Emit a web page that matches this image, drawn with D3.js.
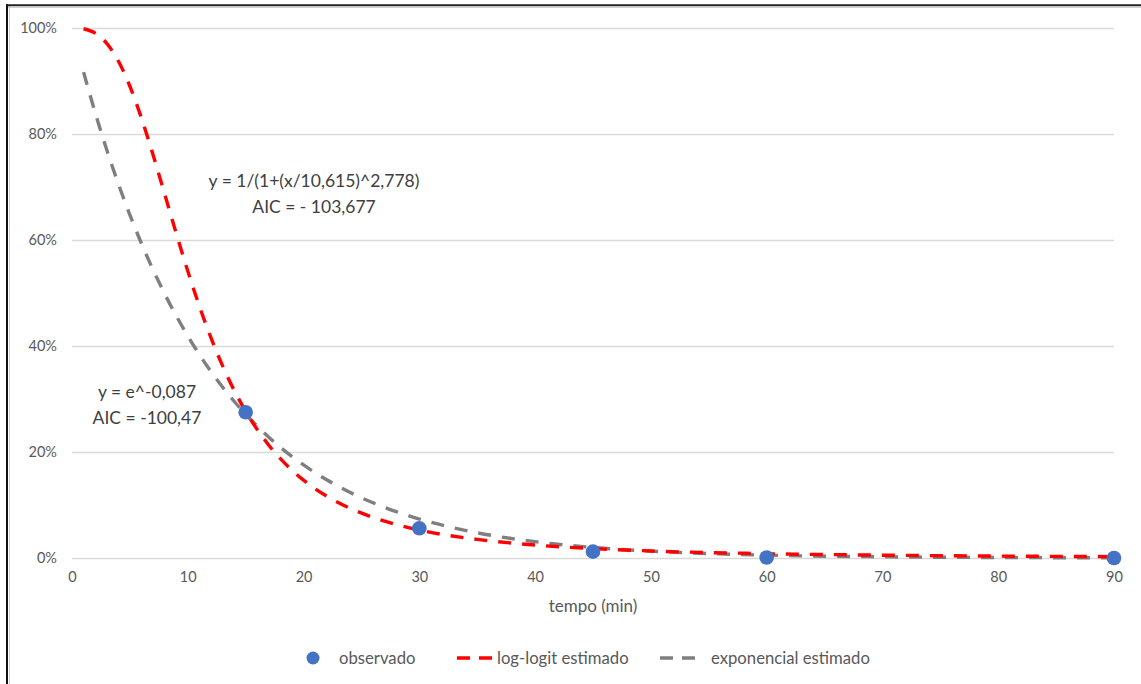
<!DOCTYPE html>
<html>
<head>
<meta charset="utf-8">
<script src="https://cdn.jsdelivr.net/npm/d3@7/dist/d3.min.js"></script>
<style>
  body { margin: 0; background: #fff; }
  svg { display: block; font-family: Lato, "Open Sans", sans-serif; }
</style>
</head>
<body>
<svg id="chart" width="1141" height="684"></svg>
<script>
// Observed fraction remaining
const tempoObservado = [15, 30, 45, 60, 90];
const observado = [0.275, 0.056, 0.012, 0.001, 0.0];

// Fitted curves, sampled along time (min)
const tempoModelo = [1, 2, 3, 4, 5, 6, 7, 8, 9, 10, 11, 12, 13, 14, 15, 16, 17, 18,
  20, 22, 24, 26, 28, 30, 35, 40, 45, 50, 60, 70, 80, 90];
const logLogitEstimado = [0.9986, 0.9904, 0.9710, 0.9377, 0.8901, 0.8299, 0.7607, 0.6870,
  0.6127, 0.5414, 0.4753, 0.4156, 0.3629, 0.3167, 0.2768, 0.2424, 0.2128, 0.1874,
  0.1468, 0.1167, 0.0940, 0.0767, 0.0633, 0.0528, 0.0351, 0.0245, 0.0178, 0.0133,
  0.0081, 0.0053, 0.0036, 0.0026];
const exponencialEstimado = [0.9167, 0.8403, 0.7703, 0.7061, 0.6473, 0.5933, 0.5439, 0.4986,
  0.4570, 0.4190, 0.3840, 0.3520, 0.3227, 0.2958, 0.2712, 0.2486, 0.2279, 0.2089,
  0.1755, 0.1475, 0.1239, 0.1042, 0.0875, 0.0735, 0.0476, 0.0308, 0.0199, 0.0129,
  0.0054, 0.0023, 0.0009, 0.0004];

const xTicks = [0, 10, 20, 30, 40, 50, 60, 70, 80, 90];
const yTicks = [0, 0.2, 0.4, 0.6, 0.8, 1.0];
const xTitle = "tempo (min)";
const legendLabels = ["observado", "log-logit estimado", "exponencial estimado"];
const eqLogLogit = ["y = 1/(1+(x/10,615)^2,778)", "AIC = - 103,677"];
const eqExponencial = ["y = e^-0,087", "AIC = -100,47"];

const colors = { obs: "#4472C4", red: "#FF0000", gray: "#7F7F7F", grid: "#D9D9D9", text: "#595959" };

const svg = d3.select("#chart");
const plot = { left: 72, right: 1114, top: 28, bottom: 558 };

const x = d3.scaleLinear().domain([0, 90]).range([plot.left, plot.right]);
const y = d3.scaleLinear().domain([0, 1]).range([plot.bottom, plot.top]);

// Frame edges (left and top)
svg.append("line").attr("x1", 9.5).attr("x2", 9.5).attr("y1", 6).attr("y2", 684)
  .attr("stroke", "#d0d0d0").attr("stroke-width", 1);
svg.append("line").attr("x1", 8).attr("x2", 1141).attr("y1", 7.5).attr("y2", 7.5)
  .attr("stroke", "#d0d0d0").attr("stroke-width", 1);
svg.append("line").attr("x1", 7).attr("x2", 7).attr("y1", 4).attr("y2", 684)
  .attr("stroke", "#111").attr("stroke-width", 2);
svg.append("line").attr("x1", 6).attr("x2", 1141).attr("y1", 5.3).attr("y2", 5.3)
  .attr("stroke", "#222").attr("stroke-width", 2);

// Horizontal gridlines + y labels
const yAxis = d3.axisLeft(y).tickValues(yTicks).tickFormat(d3.format(".0%"))
  .tickSize(-(plot.right - plot.left)).tickPadding(15);
const gy = svg.append("g").attr("transform", `translate(${plot.left},0)`).call(yAxis);
gy.select(".domain").remove();
gy.selectAll(".tick line").attr("stroke", colors.grid).attr("stroke-width", 1.3);
gy.selectAll(".tick text").attr("fill", colors.text).attr("font-size", 14.5)
  .attr("font-family", "Lato, sans-serif");

// x labels
const xAxis = d3.axisBottom(x).tickValues(xTicks).tickFormat(d3.format("d"))
  .tickSize(0).tickPadding(14);
const gx = svg.append("g").attr("transform", `translate(0,${plot.bottom})`).call(xAxis);
gx.select(".domain").remove();
gx.selectAll(".tick text").attr("fill", colors.text).attr("font-size", 14.5)
  .attr("font-family", "Lato, sans-serif");

svg.append("text").attr("x", 593).attr("y", 612)
  .attr("text-anchor", "middle").attr("fill", colors.text).attr("font-size", 17)
  .text(xTitle);

// Curves
const line = d3.line().x(d => x(d[0])).y(d => y(d[1])).curve(d3.curveMonotoneX);
const dash = "13,11";

svg.append("path")
  .datum(tempoModelo.map((t, i) => [t, exponencialEstimado[i]]))
  .attr("d", line).attr("fill", "none").attr("stroke", colors.gray)
  .attr("stroke-width", 3.4).attr("stroke-dasharray", dash);

svg.append("path")
  .datum(tempoModelo.map((t, i) => [t, logLogitEstimado[i]]))
  .attr("d", line).attr("fill", "none").attr("stroke", colors.red)
  .attr("stroke-width", 3.4).attr("stroke-dasharray", dash);

// Observed points
svg.append("g").selectAll("circle")
  .data(tempoObservado.map((t, i) => [t, observado[i]]))
  .join("circle")
  .attr("cx", d => x(d[0])).attr("cy", d => y(d[1])).attr("r", 7.3)
  .attr("fill", colors.obs);

// Equation annotations
function annotate(lines, cx, cy) {
  svg.append("g").selectAll("text").data(lines).join("text")
    .attr("x", cx).attr("y", (d, i) => cy + i * 26)
    .attr("text-anchor", "middle").attr("fill", "#404040").attr("font-size", 17.5)
    .text(d => d);
}
annotate(eqLogLogit, 314, 187);
annotate(eqExponencial, 147, 398);

// Legend
const legend = svg.append("g").attr("font-size", 16.7).attr("fill", colors.text);
legend.append("circle").attr("cx", 313).attr("cy", 658).attr("r", 6.5).attr("fill", colors.obs);
legend.append("text").attr("x", 339).attr("y", 664).text(legendLabels[0]);
legend.append("line").attr("x1", 457).attr("x2", 492).attr("y1", 658).attr("y2", 658)
  .attr("stroke", colors.red).attr("stroke-width", 3.4).attr("stroke-dasharray", "13,9");
legend.append("text").attr("x", 497).attr("y", 664).text(legendLabels[1]);
legend.append("line").attr("x1", 660).attr("x2", 695).attr("y1", 658).attr("y2", 658)
  .attr("stroke", colors.gray).attr("stroke-width", 3.4).attr("stroke-dasharray", "13,9");
legend.append("text").attr("x", 711).attr("y", 664).text(legendLabels[2]);
</script>
</body>
</html>
